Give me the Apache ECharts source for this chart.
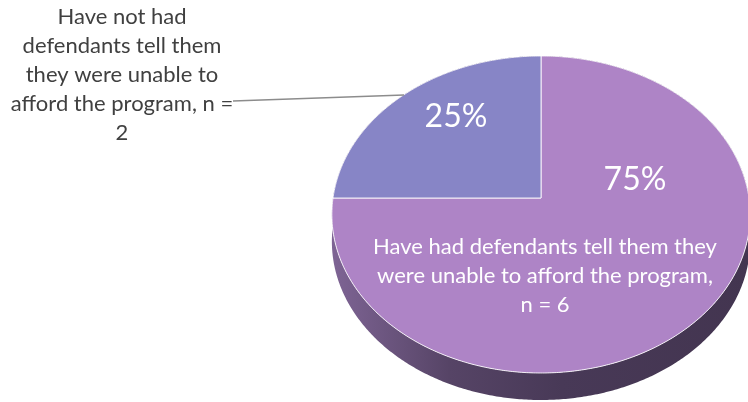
<!DOCTYPE html>
<html>
<head>
<meta charset="utf-8">
<script src="https://cdn.jsdelivr.net/npm/echarts@6/dist/echarts.min.js"></script>
<style>
html,body{margin:0;padding:0;background:#fff;}
#chart{width:748px;height:402px;}
</style>
</head>
<body>
<div id="chart"></div>
<script>
// ---- data ----
const categories = [
  'Have had defendants tell them they were unable to afford the program',
  'Have not had defendants tell them they were unable to afford the program'
];
const counts = [6, 2];
const sliceLabels = [
  'Have had defendants tell them they\nwere unable to afford the program,\nn = 6',
  'Have not had\ndefendants tell them\nthey were unable to\nafford the program, n =\n2'
];
const sliceColors = ['#ae84c6', '#8785c6'];

// ---- geometry (style) ----
const CX = 541, CY = 198, R = 208, S = 156.8, K = 0.104, H = 27;
const FONT = 'Lato';

function proj(theta, r) {
  const u = r * Math.sin(theta), v = -r * Math.cos(theta);
  const d = 1 - K * v;
  return [CX + R * u / d, CY + S * v / d];
}

const total = counts.reduce((a, b) => a + b, 0);
const starts = [];
let acc = 0;
counts.forEach(c => { starts.push(acc); acc += c; });

const wallGrad = {
  type: 'linear', x: 333, y: 0, x2: 749, y2: 0, global: true,
  colorStops: [
    { offset: 0, color: '#7e6494' },
    { offset: 0.28, color: '#564466' },
    { offset: 0.55, color: '#483957' },
    { offset: 1, color: '#433550' }
  ]
};

function renderItem(params, api) {
  const i = params.dataIndex;
  const val = api.value(0);
  const a0 = starts[i] / total * Math.PI * 2;
  const a1 = (starts[i] + val) / total * Math.PI * 2;
  const n = Math.max(8, Math.ceil((a1 - a0) / 0.01));
  const arc = [];
  for (let j = 0; j <= n; j++) arc.push(proj(a0 + (a1 - a0) * j / n, 1));
  const top = [[CX, CY]].concat(arc);
  const wall = arc.concat(arc.slice().reverse().map(p => [p[0], p[1] + H]));
  const children = [
    { type: 'polygon', z2: 1, shape: { points: wall }, style: { fill: wallGrad, stroke: null } },
    { type: 'polygon', z2: 10, shape: { points: top },
      style: { fill: sliceColors[i], stroke: 'rgba(255,255,255,0.85)', lineWidth: 1 } }
  ];
  const pct = Math.round(val / total * 100) + '%';
  if (i === 0) {
    children.push({ type: 'text', z2: 20, style: { text: pct, x: 635, y: 180, align: 'center', verticalAlign: 'middle', fill: '#fff', font: '32px ' + FONT } });
    children.push({ type: 'text', z2: 20, style: { text: sliceLabels[i], x: 545, y: 276, align: 'center', verticalAlign: 'middle', fill: '#fff', font: '22px ' + FONT, lineHeight: 29 } });
  } else {
    children.push({ type: 'text', z2: 20, style: { text: sliceLabels[i], x: 122, y: 75, align: 'center', verticalAlign: 'middle', fill: '#404040', font: '22px ' + FONT, lineHeight: 29 } });
    children.push({ type: 'line', z2: 15, shape: { x1: 233, y1: 101, x2: 404, y2: 95 }, style: { stroke: '#8c8c8c', lineWidth: 1.3 } });
    children.push({ type: 'text', z2: 20, style: { text: pct, x: 456, y: 117, align: 'center', verticalAlign: 'middle', fill: '#fff', font: '32px ' + FONT } });
  }
  return { type: 'group', children };
}

const chart = echarts.init(document.getElementById('chart'), null, { renderer: 'canvas' });
chart.setOption({
  animation: false,
  backgroundColor: '#ffffff',
  series: [{
    type: 'custom',
    coordinateSystem: 'none',
    renderItem: renderItem,
    data: counts.map((c, i) => ({ name: categories[i], value: [c] }))
  }]
});
</script>
</body>
</html>
